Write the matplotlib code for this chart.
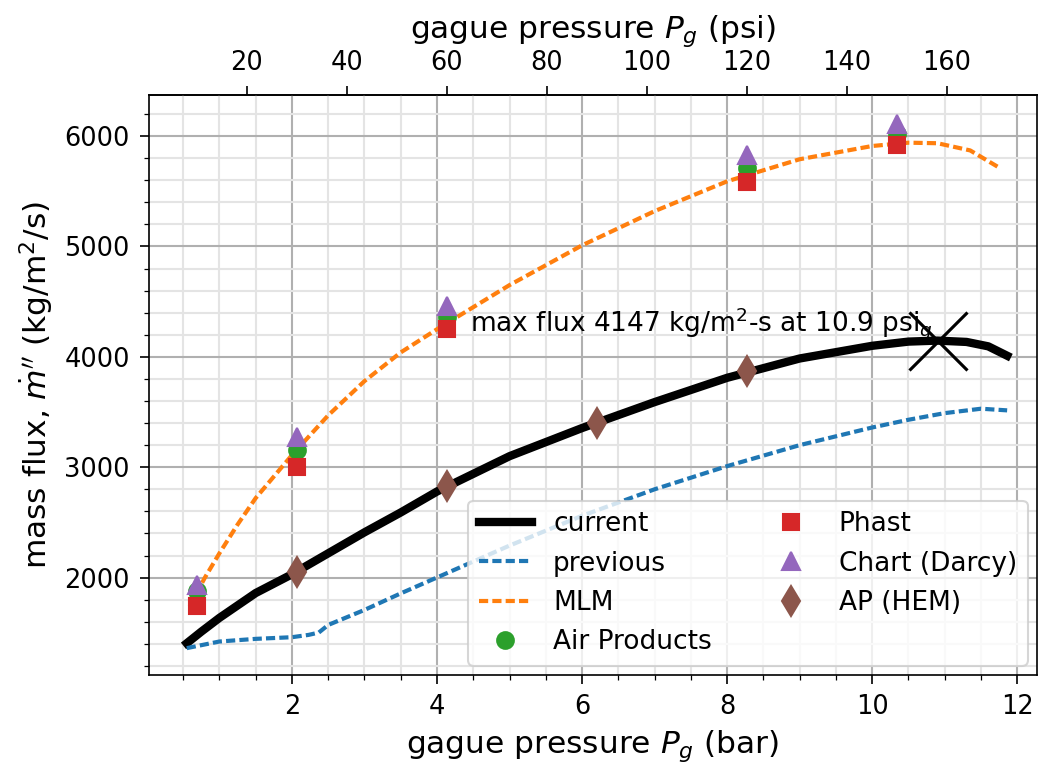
import numpy as np
import matplotlib
matplotlib.use('Agg')
import matplotlib.pyplot as plt
from matplotlib.ticker import MultipleLocator

PSI_PER_BAR = 14.5038

# model curves (pressure in bar, flux in kg/m2/s)
current_p = [0.55, 0.75, 1.0, 1.5, 2.0, 2.5, 3.0, 3.5, 4.0, 5.0, 6.0, 7.0, 8.0, 9.0, 10.0, 10.5, 10.9, 11.3, 11.6, 11.86]
current_g = [1405, 1510, 1635, 1860, 2030, 2220, 2410, 2590, 2780, 3100, 3355, 3590, 3810, 3985, 4100, 4138, 4147, 4135, 4095, 4010]

previous_p = [0.55, 1.0, 1.5, 2.0, 2.23, 2.37, 2.5, 3.0, 3.5, 4.0, 5.0, 6.0, 7.0, 8.0, 9.0, 10.0, 10.5, 11.0, 11.5, 11.86]
previous_g = [1361, 1421, 1445, 1460, 1481, 1502, 1571, 1707, 1857, 2001, 2290, 2560, 2800, 3010, 3200, 3360, 3430, 3490, 3530, 3515]

mlm_p = [0.59, 0.8, 1.0, 1.25, 1.5, 2.0, 2.5, 3.0, 3.5, 4.0, 5.0, 6.0, 7.0, 8.0, 9.0, 10.0, 10.5, 10.9, 11.35, 11.74]
mlm_g = [1740, 2000, 2220, 2480, 2720, 3110, 3470, 3780, 4040, 4250, 4650, 5010, 5320, 5590, 5790, 5910, 5940, 5935, 5870, 5718]

# reference points (pressure in psi)
ap_psi = [10, 30, 60, 120, 150]
ap_g = [1880, 3155, 4360, 5710, 6020]
phast_psi = [10, 30, 60, 120, 150]
phast_g = [1745, 3005, 4250, 5580, 5915]
darcy_psi = [10, 30, 60, 120, 150]
darcy_g = [1930, 3275, 4465, 5825, 6105]
hem_psi = [30, 60, 90, 120]
hem_g = [2050, 2830, 3400, 3875]

max_p = 10.9
max_g = 4147


def bar2psi(x):
    return x * PSI_PER_BAR


def psi2bar(x):
    return x / PSI_PER_BAR


fig, ax = plt.subplots(figsize=(1040 / 150, 767 / 150), dpi=150)
fig.subplots_adjust(left=0.1433, right=0.997, bottom=0.12, top=0.876)

dash = (2.2, 1.0)
ax.plot(current_p, current_g, color='k', lw=4, label='current')
ax.plot(previous_p, previous_g, color='tab:blue', lw=2, dashes=dash, label='previous')
ax.plot(mlm_p, mlm_g, color='tab:orange', lw=2, dashes=dash, label='MLM')
ax.plot(psi2bar(np.array(ap_psi)), ap_g, 'o', color='tab:green', ms=8, label='Air Products')
ax.plot(psi2bar(np.array(phast_psi)), phast_g, 's', color='tab:red', ms=8, label='Phast')
ax.plot(psi2bar(np.array(darcy_psi)), darcy_g, '^', color='tab:purple', ms=9, label='Chart (Darcy)')
ax.plot(psi2bar(np.array(hem_psi)), hem_g, 'd', color='tab:brown', ms=10, label='AP (HEM)')

ax.plot(max_p, max_g, 'x', color='k', ms=28, mew=1.5)
ax.text(4.45, 4300, 'max flux %d kg/m$^2$-s at %.1f psi$_g$' % (max_g, max_p),
        fontsize=12.7, va='center', ha='left')

ax.set_xlim(0.03, 12.27)
ax.set_ylim(1118, 6371)
ax.set_xticks([2, 4, 6, 8, 10, 12])
ax.xaxis.set_minor_locator(MultipleLocator(0.5))
ax.yaxis.set_major_locator(MultipleLocator(1000))
ax.yaxis.set_minor_locator(MultipleLocator(200))
ax.grid(which='major', color='#b0b0b0', lw=1)
ax.grid(which='minor', color='#e4e4e4', lw=1)
ax.tick_params(which='major', labelsize=12.3, length=4.2, pad=5)
ax.tick_params(which='minor', length=2.2)

ax.set_xlabel('gague pressure $P_g$ (bar)', fontsize=15)
ax.set_ylabel("mass flux, $\\dot{m}''$ (kg/m$^2$/s)", fontsize=15)

top = ax.secondary_xaxis('top', functions=(bar2psi, psi2bar))
top.set_xticks([20, 40, 60, 80, 100, 120, 140, 160])
top.tick_params(labelsize=12.3, length=4.2, pad=5)
top.set_xlabel('gague pressure $P_g$ (psi)', fontsize=15, labelpad=6)

ax.legend(loc='lower right', ncol=2, fontsize=12.7, borderaxespad=0.35)

fig.savefig('out.png', dpi=150)
